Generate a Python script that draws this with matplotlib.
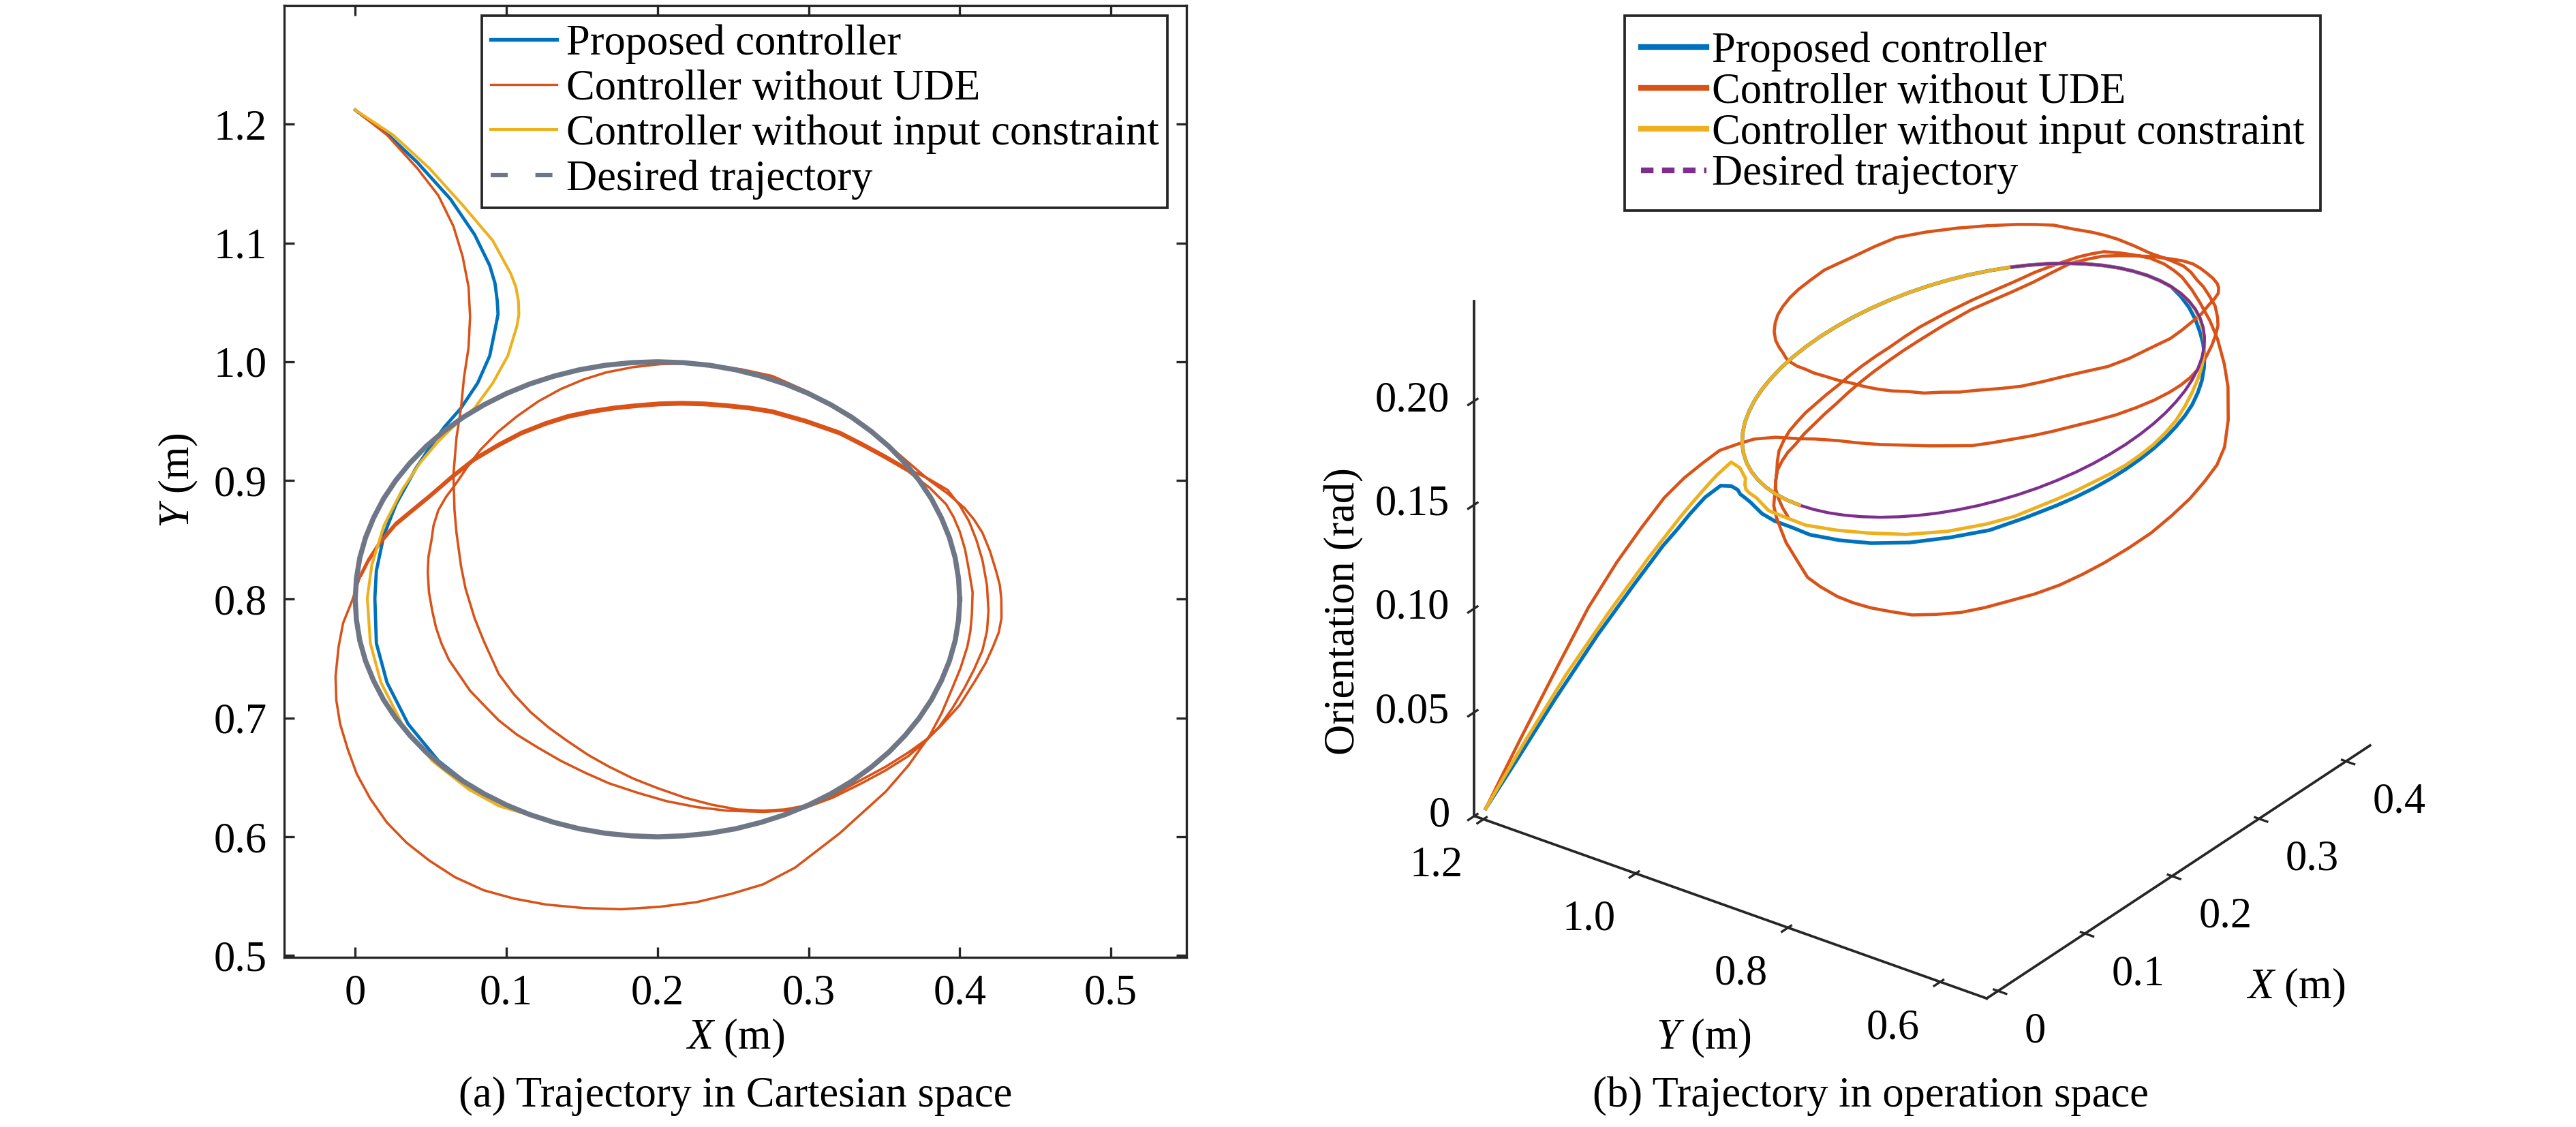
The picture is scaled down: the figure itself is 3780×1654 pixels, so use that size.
import numpy as np
import matplotlib
matplotlib.use('Agg')
import matplotlib.pyplot as plt
from matplotlib.lines import Line2D
from mpl_toolkits.mplot3d import proj3d

plt.rcParams['font.family'] = 'Liberation Serif'
plt.rcParams['mathtext.fontset'] = 'custom'
plt.rcParams['mathtext.rm'] = 'Liberation Serif'
plt.rcParams['mathtext.it'] = 'Liberation Serif:italic'

legend_labels = ['Proposed controller', 'Controller without UDE',
                 'Controller without input constraint', 'Desired trajectory']

# desired circle, read every 5 degrees from 0; orientation stays at 0.2 rad
des_x = [0.4000, 0.3992, 0.3970, 0.3932, 0.3879, 0.3813, 0.3732, 0.3638, 0.3532, 0.3414,
         0.3286, 0.3147, 0.3000, 0.2845, 0.2684, 0.2518, 0.2347, 0.2174, 0.2000,
         0.1826, 0.1653, 0.1482, 0.1316, 0.1155, 0.1000, 0.0853, 0.0714, 0.0586, 0.0468,
         0.0362, 0.0268, 0.0187, 0.0121, 0.0068, 0.0030, 0.0008, 0.0000,
         0.0008, 0.0030, 0.0068, 0.0121, 0.0187, 0.0268, 0.0362, 0.0468, 0.0586, 0.0714,
         0.0853, 0.1000, 0.1155, 0.1316, 0.1482, 0.1653, 0.1826, 0.2000,
         0.2174, 0.2347, 0.2518, 0.2684, 0.2845, 0.3000, 0.3147, 0.3286, 0.3414, 0.3532,
         0.3638, 0.3732, 0.3813, 0.3879, 0.3932, 0.3970, 0.3992]
des_y = [0.8000, 0.8174, 0.8347, 0.8518, 0.8684, 0.8845, 0.9000, 0.9147, 0.9286, 0.9414,
         0.9532, 0.9638, 0.9732, 0.9813, 0.9879, 0.9932, 0.9970, 0.9992, 1.0000,
         0.9992, 0.9970, 0.9932, 0.9879, 0.9813, 0.9732, 0.9638, 0.9532, 0.9414, 0.9286,
         0.9147, 0.9000, 0.8845, 0.8684, 0.8518, 0.8347, 0.8174, 0.8000,
         0.7826, 0.7653, 0.7482, 0.7316, 0.7155, 0.7000, 0.6853, 0.6714, 0.6586, 0.6468,
         0.6362, 0.6268, 0.6187, 0.6121, 0.6068, 0.6030, 0.6008, 0.6000,
         0.6008, 0.6030, 0.6068, 0.6121, 0.6187, 0.6268, 0.6362, 0.6468, 0.6586, 0.6714,
         0.6853, 0.7000, 0.7155, 0.7316, 0.7482, 0.7653, 0.7826]
des_z = 0.2

# proposed controller: approach, then it rides the circle from 250 deg round to 180 deg
blue_x = [0.000, 0.021, 0.041, 0.063, 0.079, 0.089, 0.0925, 0.094, 0.0945, 0.093, 0.089,
          0.081, 0.070, 0.059, 0.050, 0.040, 0.027, 0.019, 0.014, 0.013, 0.014, 0.021, 0.035,
          0.055, 0.079, 0.105]
blue_y = [1.212, 1.192, 1.168, 1.137, 1.107, 1.081, 1.066, 1.051, 1.040, 1.030, 1.005,
          0.982, 0.961, 0.945, 0.929, 0.910, 0.880, 0.854, 0.824, 0.801, 0.763, 0.730, 0.695,
          0.664, 0.640, 0.623]
blue_z = [0.000, 0.022, 0.047, 0.076, 0.100, 0.119, 0.128, 0.137, 0.143, 0.148, 0.158,
          0.163, 0.167, 0.170, 0.173, 0.176, 0.178, 0.180, 0.182, 0.182, 0.184, 0.185, 0.186,
          0.187, 0.187, 0.188]
blue_ring_z = ([0.188] * 11 + [0.1885, 0.189, 0.190, 0.191, 0.192, 0.193, 0.195, 0.197, 0.1985]
               + [0.2] * 39)

# controller without input constraint
yel_x = [0.000, 0.025, 0.049, 0.071, 0.091, 0.103, 0.1063, 0.108, 0.1083, 0.107, 0.101,
         0.091, 0.079, 0.067, 0.055, 0.043, 0.031, 0.019, 0.011, 0.008, 0.010, 0.017, 0.031,
         0.051, 0.075, 0.095]
yel_y = [1.212, 1.191, 1.163, 1.132, 1.102, 1.074, 1.063, 1.051, 1.040, 1.030, 1.005,
         0.982, 0.961, 0.948, 0.933, 0.915, 0.892, 0.862, 0.829, 0.801, 0.763, 0.730, 0.695,
         0.664, 0.640, 0.626]
yel_z = [0.000, 0.027, 0.057, 0.085, 0.110, 0.130, 0.137, 0.144, 0.150, 0.155, 0.166,
         0.169, 0.170, 0.172, 0.175, 0.179, 0.183, 0.184, 0.187, 0.188, 0.190, 0.191, 0.191,
         0.191, 0.191, 0.191]
yel_ring_z = ([0.191, 0.191, 0.191, 0.1905, 0.190, 0.190, 0.190, 0.1905, 0.191, 0.1925,
               0.194, 0.195, 0.196, 0.197, 0.198, 0.1985, 0.199, 0.1995, 0.200, 0.200]
              + [0.2] * 39)

# controller without UDE, (x, y, orientation) along the run
red_start = [(0.000, 1.212, 0.000), (0.021, 1.191, 0.030), (0.041, 1.163, 0.0645),
             (0.055, 1.140, 0.091), (0.065, 1.114, 0.1135), (0.071, 1.089, 0.1315),
             (0.075, 1.063, 0.1485), (0.076, 1.038, 0.161), (0.075, 1.012, 0.172),
             (0.072, 0.987, 0.182), (0.070, 0.961, 0.189), (0.067, 0.936, 0.1955),
             (0.065, 0.905, 0.201), (0.0657, 0.875, 0.204), (0.067, 0.856, 0.206),
             (0.070, 0.828, 0.208), (0.073, 0.809, 0.2087), (0.079, 0.784, 0.2094),
             (0.085, 0.765, 0.210)]
red_loop1 = [(0.095, 0.737, 0.2105), (0.105, 0.720, 0.210), (0.116, 0.705, 0.209),
             (0.128, 0.692, 0.2088), (0.140, 0.681, 0.2085), (0.154, 0.669, 0.208),
             (0.168, 0.659, 0.2075), (0.184, 0.649, 0.207), (0.200, 0.641, 0.206),
             (0.218, 0.633, 0.205), (0.236, 0.627, 0.2043), (0.253, 0.623, 0.2037),
             (0.270, 0.622, 0.203), (0.284, 0.623, 0.2025), (0.297, 0.626, 0.202),
             (0.316, 0.635, 0.2005), (0.335, 0.648, 0.199), (0.351, 0.659, 0.1985),
             (0.366, 0.671, 0.198), (0.378, 0.682, 0.1975), (0.388, 0.694, 0.197),
             (0.400, 0.711, 0.197), (0.410, 0.731, 0.197), (0.417, 0.746, 0.197),
             (0.422, 0.760, 0.197), (0.4258, 0.772, 0.198), (0.4276, 0.784, 0.199),
             (0.4275, 0.800, 0.1995), (0.4265, 0.812, 0.200), (0.424, 0.824, 0.201),
             (0.420, 0.8405, 0.2035), (0.415, 0.856, 0.206), (0.4095, 0.867, 0.208),
             (0.403, 0.877, 0.210), (0.392, 0.889, 0.213), (0.380, 0.900, 0.2167),
             (0.369, 0.912, 0.2185), (0.358, 0.924, 0.220), (0.340, 0.942, 0.222),
             (0.3206, 0.959, 0.224), (0.299, 0.975, 0.226), (0.276, 0.988, 0.228),
             (0.256, 0.9935, 0.2285), (0.236, 0.997, 0.229), (0.219, 0.9985, 0.230),
             (0.202, 0.998, 0.2315), (0.184, 0.9955, 0.232), (0.166, 0.991, 0.233),
             (0.151, 0.985, 0.234), (0.136, 0.977, 0.235), (0.121, 0.9665, 0.2365),
             (0.107, 0.954, 0.238), (0.0945, 0.941, 0.239), (0.083, 0.926, 0.240),
             (0.0745, 0.912, 0.241), (0.067, 0.898, 0.242)]
red_loop2 = [(0.060, 0.886, 0.243), (0.055, 0.875, 0.244), (0.0518, 0.862, 0.2445),
             (0.0505, 0.850, 0.245), (0.0485, 0.836, 0.2455), (0.048, 0.823, 0.246),
             (0.0488, 0.806, 0.246), (0.051, 0.790, 0.246), (0.0535, 0.776, 0.2455),
             (0.057, 0.763, 0.245), (0.062, 0.749, 0.2445), (0.069, 0.736, 0.244),
             (0.076, 0.723, 0.243), (0.085, 0.711, 0.2425), (0.095, 0.698, 0.2415),
             (0.107, 0.686, 0.2407), (0.121, 0.675, 0.239), (0.136, 0.664, 0.2374),
             (0.152, 0.654, 0.2365), (0.168, 0.645, 0.2357), (0.187, 0.637, 0.234),
             (0.206, 0.630, 0.232), (0.226, 0.625, 0.231), (0.246, 0.622, 0.2305),
             (0.270, 0.621, 0.229), (0.284, 0.622, 0.229), (0.297, 0.624, 0.229),
             (0.316, 0.633, 0.2265), (0.335, 0.645, 0.224), (0.351, 0.656, 0.221),
             (0.366, 0.668, 0.218), (0.377, 0.680, 0.216), (0.386, 0.692, 0.214),
             (0.395, 0.708, 0.212), (0.403, 0.725, 0.210), (0.4095, 0.741, 0.2085),
             (0.415, 0.757, 0.207), (0.418, 0.773, 0.2055), (0.419, 0.790, 0.204),
             (0.418, 0.812, 0.2025), (0.415, 0.833, 0.201), (0.411, 0.850, 0.200),
             (0.406, 0.866, 0.199), (0.400, 0.879, 0.1975), (0.392, 0.892, 0.196),
             (0.380, 0.901, 0.194)]
red_top2 = [(0.3655, 0.910, 0.192), (0.3505, 0.921, 0.190), (0.336, 0.931, 0.1885),
            (0.3206, 0.941, 0.187), (0.298, 0.951, 0.1845), (0.2758, 0.959, 0.182),
            (0.261, 0.962, 0.181), (0.246, 0.964, 0.180), (0.231, 0.9655, 0.179),
            (0.216, 0.966, 0.178), (0.201, 0.9655, 0.177), (0.186, 0.964, 0.176),
            (0.171, 0.962, 0.1755), (0.156, 0.959, 0.175), (0.141, 0.955, 0.175),
            (0.126, 0.949, 0.175), (0.110, 0.941, 0.1765), (0.095, 0.931, 0.178),
            (0.079, 0.919, 0.1795), (0.064, 0.904, 0.181), (0.049, 0.8875, 0.183),
            (0.037, 0.875, 0.1835), (0.0266, 0.864, 0.184), (0.016, 0.848, 0.183),
            (0.0086, 0.8335, 0.181), (0.004, 0.822, 0.178)]
red_loop3 = [(-0.002, 0.799, 0.173), (-0.008, 0.780, 0.170), (-0.011, 0.760, 0.169),
             (-0.013, 0.735, 0.168), (-0.0125, 0.715, 0.1675), (-0.010, 0.695, 0.167),
             (-0.005, 0.674, 0.1665), (0.001, 0.653, 0.166), (0.010, 0.632, 0.1665),
             (0.021, 0.612, 0.167), (0.034, 0.595, 0.168), (0.049, 0.580, 0.169),
             (0.066, 0.566, 0.1695), (0.085, 0.555, 0.170), (0.105, 0.548, 0.1705),
             (0.126, 0.543, 0.171), (0.151, 0.540, 0.1715), (0.176, 0.539, 0.172),
             (0.201, 0.541, 0.173), (0.226, 0.545, 0.174), (0.249, 0.552, 0.175),
             (0.270, 0.560, 0.176), (0.291, 0.574, 0.177), (0.3206, 0.603, 0.178),
             (0.351, 0.638, 0.181), (0.366, 0.660, 0.185), (0.380, 0.685, 0.190),
             (0.388, 0.704, 0.194), (0.395, 0.725, 0.198), (0.4005, 0.742, 0.2005),
             (0.405, 0.760, 0.203), (0.407, 0.773, 0.204), (0.408, 0.787, 0.205),
             (0.4085, 0.806, 0.2052), (0.406, 0.825, 0.205), (0.4035, 0.842, 0.2045),
             (0.400, 0.857, 0.204), (0.396, 0.869, 0.2025), (0.391, 0.880, 0.201),
             (0.380, 0.894, 0.199)]
red_top3 = [(0.3655, 0.908, 0.197), (0.3505, 0.919, 0.195), (0.336, 0.929, 0.1935),
            (0.3206, 0.939, 0.192), (0.298, 0.949, 0.1905), (0.2758, 0.957, 0.189),
            (0.261, 0.960, 0.188), (0.246, 0.962, 0.187), (0.231, 0.9635, 0.1865),
            (0.216, 0.964, 0.186), (0.201, 0.9635, 0.1855), (0.186, 0.962, 0.185),
            (0.171, 0.960, 0.185), (0.156, 0.957, 0.185), (0.141, 0.953, 0.1855),
            (0.126, 0.947, 0.186), (0.110, 0.939, 0.187), (0.095, 0.929, 0.188),
            (0.079, 0.917, 0.189), (0.064, 0.902, 0.190), (0.049, 0.8855, 0.192),
            (0.037, 0.873, 0.1925), (0.0266, 0.862, 0.193), (0.016, 0.846, 0.193),
            (0.0086, 0.8315, 0.192), (0.004, 0.820, 0.191)]

x_ticks_a = [0, 0.1, 0.2, 0.3, 0.4, 0.5]
x_ticklabels_a = ['0', '0.1', '0.2', '0.3', '0.4', '0.5']
y_ticks_a = [0.5, 0.6, 0.7, 0.8, 0.9, 1.0, 1.1, 1.2]
y_ticklabels_a = ['0.5', '0.6', '0.7', '0.8', '0.9', '1.0', '1.1', '1.2']
x_ticks_b = [0, 0.1, 0.2, 0.3, 0.4]
x_ticklabels_b = ['0', '0.1', '0.2', '0.3', '0.4']
y_ticks_b = [0.6, 0.8, 1.0, 1.2]
y_ticklabels_b = ['0.6', '0.8', '1.0', '1.2']
z_ticks_b = [0, 0.05, 0.10, 0.15, 0.20]
z_ticklabels_b = ['0', '0.05', '0.10', '0.15', '0.20']

c_blue = '#0072BD'
c_red = '#D95319'
c_yel = '#EDB120'
c_gray = '#6F7787'
c_purple = '#7E2F8E'
c_axis = '#262626'

red = np.array(red_start + red_loop1 + red_loop2 + red_top2 + red_loop3 + red_top3)
# circle pieces the two converged controllers ride on (250 deg ... 360 ... 180 deg)
ring_x = des_x[50:] + des_x[:37]
ring_y = des_y[50:] + des_y[:37]
loop_x = des_x + des_x[:1]
loop_y = des_y + des_y[:1]

W, H = 3780, 1654
fig = plt.figure(figsize=(W / 300, H / 300), dpi=300)

# ---- (a) Cartesian space ----
ax = fig.add_axes([417 / W, 1 - 1405 / H, (1741 - 417) / W, (1405 - 8) / H])
ax.plot(blue_x + ring_x, blue_y + ring_y, color=c_blue, lw=1.15)
ax.plot(red[:, 0], red[:, 1], color=c_red, lw=0.85)
ax.plot(yel_x + ring_x, yel_y + ring_y, color=c_yel, lw=1.0)
ax.plot(loop_x, loop_y, color=c_gray, lw=1.8)
ax.set_xlim(-0.047, 0.55)
ax.set_ylim(0.4985, 1.30)
ax.set_xticks(x_ticks_a, x_ticklabels_a)
ax.set_yticks(y_ticks_a, y_ticklabels_a)
ax.tick_params(direction='in', top=True, right=True, length=3.6, width=0.8,
               color=c_axis, labelcolor='black', labelsize=15, pad=6)
for sp in ax.spines.values():
    sp.set_linewidth(0.8)
    sp.set_color(c_axis)

handles_a = [Line2D([], [], color=c_blue, lw=1.3),
             Line2D([], [], color=c_red, lw=0.8),
             Line2D([], [], color=c_yel, lw=1.0),
             Line2D([], [], color=c_gray, lw=1.5, ls=(0, (4, 6.5)))]
leg = ax.legend(handles_a, legend_labels, loc='upper right', fontsize=15,
                bbox_to_anchor=(1713 / W, 1 - 23 / H), bbox_transform=fig.transFigure,
                borderaxespad=0, borderpad=0.2, labelspacing=0.13, handlelength=1.56,
                handletextpad=0.22, fancybox=False, framealpha=1)
leg.get_frame().set_edgecolor(c_axis)
leg.get_frame().set_linewidth(0.9)

fig.text(262 / W, 1 - 705 / H, '$Y$ (m)', rotation=90, ha='center', va='center', fontsize=15)
fig.text(1079 / W, 1 - 1524 / H, '$X$ (m)', ha='center', va='center', fontsize=15)
fig.text(1079 / W, 1 - 1609 / H, '(a) Trajectory in Cartesian space',
         ha='center', va='center', fontsize=15)

# ---- (b) operation space ----
ax3 = fig.add_subplot(projection='3d', computed_zorder=False)
ax3.set_proj_type('ortho')
ax3.view_init(elev=29, azim=-143.7)
ax3.set_box_aspect((1.10, 1.08, 1.0))
ax3.set_facecolor('none')

ax3.plot(blue_x + ring_x, blue_y + ring_y, blue_z + blue_ring_z, color=c_blue, lw=1.3)
ax3.plot(red[:, 0], red[:, 1], red[:, 2], color=c_red, lw=1.1)
# yellow hides the desired path on the far left of the ring, so draw that part last
ax3.plot(yel_x + ring_x[:31], yel_y + ring_y[:31], yel_z + yel_ring_z[:31], color=c_yel, lw=1.2)
ax3.plot(loop_x, loop_y, [des_z] * len(loop_x), color=c_purple, lw=1.05)
ax3.plot(ring_x[30:], ring_y[30:], yel_ring_z[30:], color=c_yel, lw=1.2)

x_lo, x_hi = -0.013, 0.4276
y_lo, y_hi = 0.539, 1.212
z_hi = 0.248
ax3.set_xlim(x_lo, x_hi)
ax3.set_ylim(y_lo, y_hi)
ax3.set_zlim(0, z_hi)
ax3.set_xticks(x_ticks_b)
ax3.set_yticks(y_ticks_b)
ax3.set_zticks(z_ticks_b)
ax3.xaxis.set_ticklabels([])
ax3.yaxis.set_ticklabels([])
ax3.zaxis.set_ticklabels([])
ax3.tick_params(colors=c_axis)
ax3.grid(False)
for axis in (ax3.xaxis, ax3.yaxis, ax3.zaxis):
    axis.set_pane_color((1, 1, 1, 0))
    axis.line.set_color(c_axis)
    axis.line.set_linewidth(0.9)


def screen(x, y, z):
    px, py, _ = proj3d.proj_transform(x, y, z, ax3.M)
    return ax3.transData.transform((px, py))


# move the 3-D box so its corners land where the reference puts them
corners = [(x_lo, y_hi, 0), (x_lo, y_lo, 0), (x_hi, y_lo, 0), (x_lo, y_hi, z_hi)]
targets = np.array([[2166, H - 1199], [2916, H - 1466], [3472, H - 1102], [2166, H - 432]], float)
fig.canvas.draw()
bb = ax3.get_position()
side = bb.width * W
centre = np.array([(bb.x0 + bb.x1) / 2 * W, (bb.y0 + bb.y1) / 2 * H])
f = (np.array([screen(*p) for p in corners]) - centre) / side
fm, tm = f.mean(0), targets.mean(0)
s = ((f - fm) * (targets - tm)).sum() / ((f - fm) ** 2).sum()
c = tm - s * fm
ax3.set_position([(c[0] - s / 2) / W, (c[1] - s / 2) / H, s / W, s / H])
fig.canvas.draw()

# tick labels set the way the reference has them, next to the projected ticks
for v, lab in zip(z_ticks_b, z_ticklabels_b):
    px, py = screen(x_lo, y_hi, v)
    fig.text((px - 36) / W, py / H, lab, ha='right', va='center', fontsize=15)
for v, lab in zip(y_ticks_b, y_ticklabels_b):
    px, py = screen(x_lo, v, 0)
    fig.text((px - 69) / W, (py - 68) / H, lab, ha='center', va='center', fontsize=15)
for v, lab in zip(x_ticks_b, x_ticklabels_b):
    px, py = screen(v, y_lo, 0)
    fig.text((px + 39) / W, (py - 60) / H, lab, ha='left', va='center', fontsize=15)

handles_b = [Line2D([], [], color=c_blue, lw=2.0),
             Line2D([], [], color=c_red, lw=2.0),
             Line2D([], [], color=c_yel, lw=2.0),
             Line2D([], [], color=c_purple, lw=2.0, ls=(0, (2.2, 1.5)))]
leg3 = ax3.legend(handles_b, legend_labels, loc='upper left', fontsize=15,
                  bbox_to_anchor=(2384 / W, 1 - 23 / H), bbox_transform=fig.transFigure,
                  borderaxespad=0, borderpad=0.38, labelspacing=0.03, handlelength=1.54,
                  handletextpad=0.12, fancybox=False, framealpha=1)
leg3.get_frame().set_edgecolor(c_axis)
leg3.get_frame().set_linewidth(0.9)

fig.text(1972 / W, 1 - 897 / H, 'Orientation (rad)', rotation=90, ha='center', va='center',
         fontsize=15)
fig.text(2500 / W, 1 - 1524 / H, '$Y$ (m)', ha='center', va='center', fontsize=15)
fig.text(3369 / W, 1 - 1450 / H, '$X$ (m)', ha='center', va='center', fontsize=15)
fig.text(2745 / W, 1 - 1609 / H, '(b) Trajectory in operation space',
         ha='center', va='center', fontsize=15)

fig.savefig('out.png', dpi=300)
